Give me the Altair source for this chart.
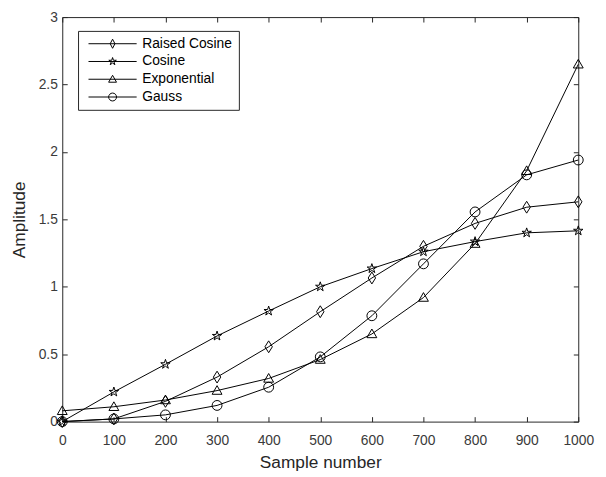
import altair as alt
import pandas as pd

# ---- data ----
samples = [0, 100, 200, 300, 400, 500, 600, 700, 800, 900, 1000]
raised_cosine = [0.00, 0.02, 0.15, 0.33, 0.555, 0.815, 1.065, 1.30, 1.47, 1.59, 1.63]
cosine = [0.00, 0.22, 0.425, 0.635, 0.82, 1.00, 1.135, 1.26, 1.335, 1.40, 1.415]
exponential = [0.08, 0.11, 0.16, 0.23, 0.32, 0.46, 0.65, 0.92, 1.32, 1.86, 2.65]
gauss = [0.00, 0.02, 0.05, 0.12, 0.255, 0.48, 0.785, 1.17, 1.555, 1.83, 1.94]
series_names = ["Raised Cosine", "Cosine", "Exponential", "Gauss"]
x_ticks = [0, 100, 200, 300, 400, 500, 600, 700, 800, 900, 1000]
y_ticks = [0, 0.5, 1, 1.5, 2, 2.5, 3]

rows = []
for name, vals in zip(series_names, [raised_cosine, cosine, exponential, gauss]):
    for s, v in zip(samples, vals):
        rows.append({"sample": s, "amplitude": v, "series": name})
df = pd.DataFrame(rows)

# ---- marker shapes (unit paths) ----
diamond = "M0,-1.2L0.75,0L0,1.2L-0.75,0Z"
star = ("M0,-1L0.223,-0.307L0.951,-0.309L0.361,0.117L0.588,0.809L0,0.38"
        "L-0.588,0.809L-0.361,0.117L-0.951,-0.309L-0.223,-0.307Z")
triangle = "M0,-1L1,0.75L-1,0.75Z"
circle = "M1,0A1,1,0,1,1,-1,0A1,1,0,1,1,1,0Z"
plot_shapes = [diamond, star, triangle, circle]

seg = "M-6.1,0L6.1,0"
legend_shapes = [
    seg + "M0,-1.15L0.6,0L0,1.15L-0.6,0Z",
    seg + star,
    seg + triangle,
    seg + circle,
]

FONT = "Liberation Sans"
AX = "#262626"
LAB = "#3a3a3a"

xs = alt.Scale(domain=[0, 1000], nice=False, zero=False)
ys = alt.Scale(domain=[0, 3], nice=False)

common_ax = dict(domain=False, grid=False, offset=-5, tickSize=5, tickColor=AX,
                 tickWidth=1, labelFont=FONT, labelFontSize=14, labelColor=LAB,
                 titleFont=FONT, titleFontSize=17.5, titleColor=AX,
                 titleFontWeight="normal", labelFlush=False, labelOverlap=False)

base = alt.Chart(df)

lines = base.mark_line(color="black", strokeWidth=1).encode(
    x=alt.X("sample:Q", scale=xs,
            axis=alt.Axis(values=x_ticks, format="d", title="Sample number",
                          orient="bottom", labelPadding=12, titlePadding=7, **common_ax)),
    y=alt.Y("amplitude:Q", scale=ys,
            axis=alt.Axis(values=y_ticks, format=".1~f", title="Amplitude",
                          orient="left", labelPadding=5, titlePadding=10, **common_ax)),
    detail="series:N",
)

points = base.mark_point(filled=False, color="black", strokeWidth=1, size=100, opacity=1).encode(
    x=alt.X("sample:Q", scale=xs,
            axis=alt.Axis(values=x_ticks, labels=False, title=None, orient="top", **common_ax)),
    y=alt.Y("amplitude:Q", scale=ys,
            axis=alt.Axis(values=y_ticks, labels=False, title=None, orient="right", **common_ax)),
    shape=alt.Shape("series:N", scale=alt.Scale(domain=series_names, range=plot_shapes),
                    legend=None),
)

legend_layer = base.mark_point(filled=False, color="black", strokeWidth=1, size=64).encode(
    x=alt.X("sample:Q", scale=xs, axis=None),
    y=alt.Y("amplitude:Q", scale=ys, axis=None),
    shape=alt.Shape("series:N", scale=alt.Scale(domain=series_names, range=legend_shapes),
                    legend=alt.Legend(title=None, orient="none", legendX=16, legendY=14,
                                      strokeColor=AX, fillColor="white", padding=6,
                                      symbolSize=64, symbolOffset=22, labelOffset=23,
                                      symbolStrokeColor="black", symbolStrokeWidth=1,
                                      symbolFillColor="transparent", symbolOpacity=1,
                                      labelFont=FONT, labelFontSize=14, labelColor="black",
                                      rowPadding=4, cornerRadius=0)),
).transform_filter("datum.sample < 0")

chart = alt.layer(lines, points, legend_layer).resolve_scale(
    shape="independent"
).resolve_axis(
    x="independent", y="independent"
).properties(
    width=523, height=410,
    autosize=alt.AutoSizeParams(type="none"),
    padding={"left": 55, "top": 6, "right": 20, "bottom": 58},
    background="white",
).configure_view(stroke=AX, strokeWidth=1)

chart.save("out.html", embed_options={"renderer": "svg", "actions": False})
